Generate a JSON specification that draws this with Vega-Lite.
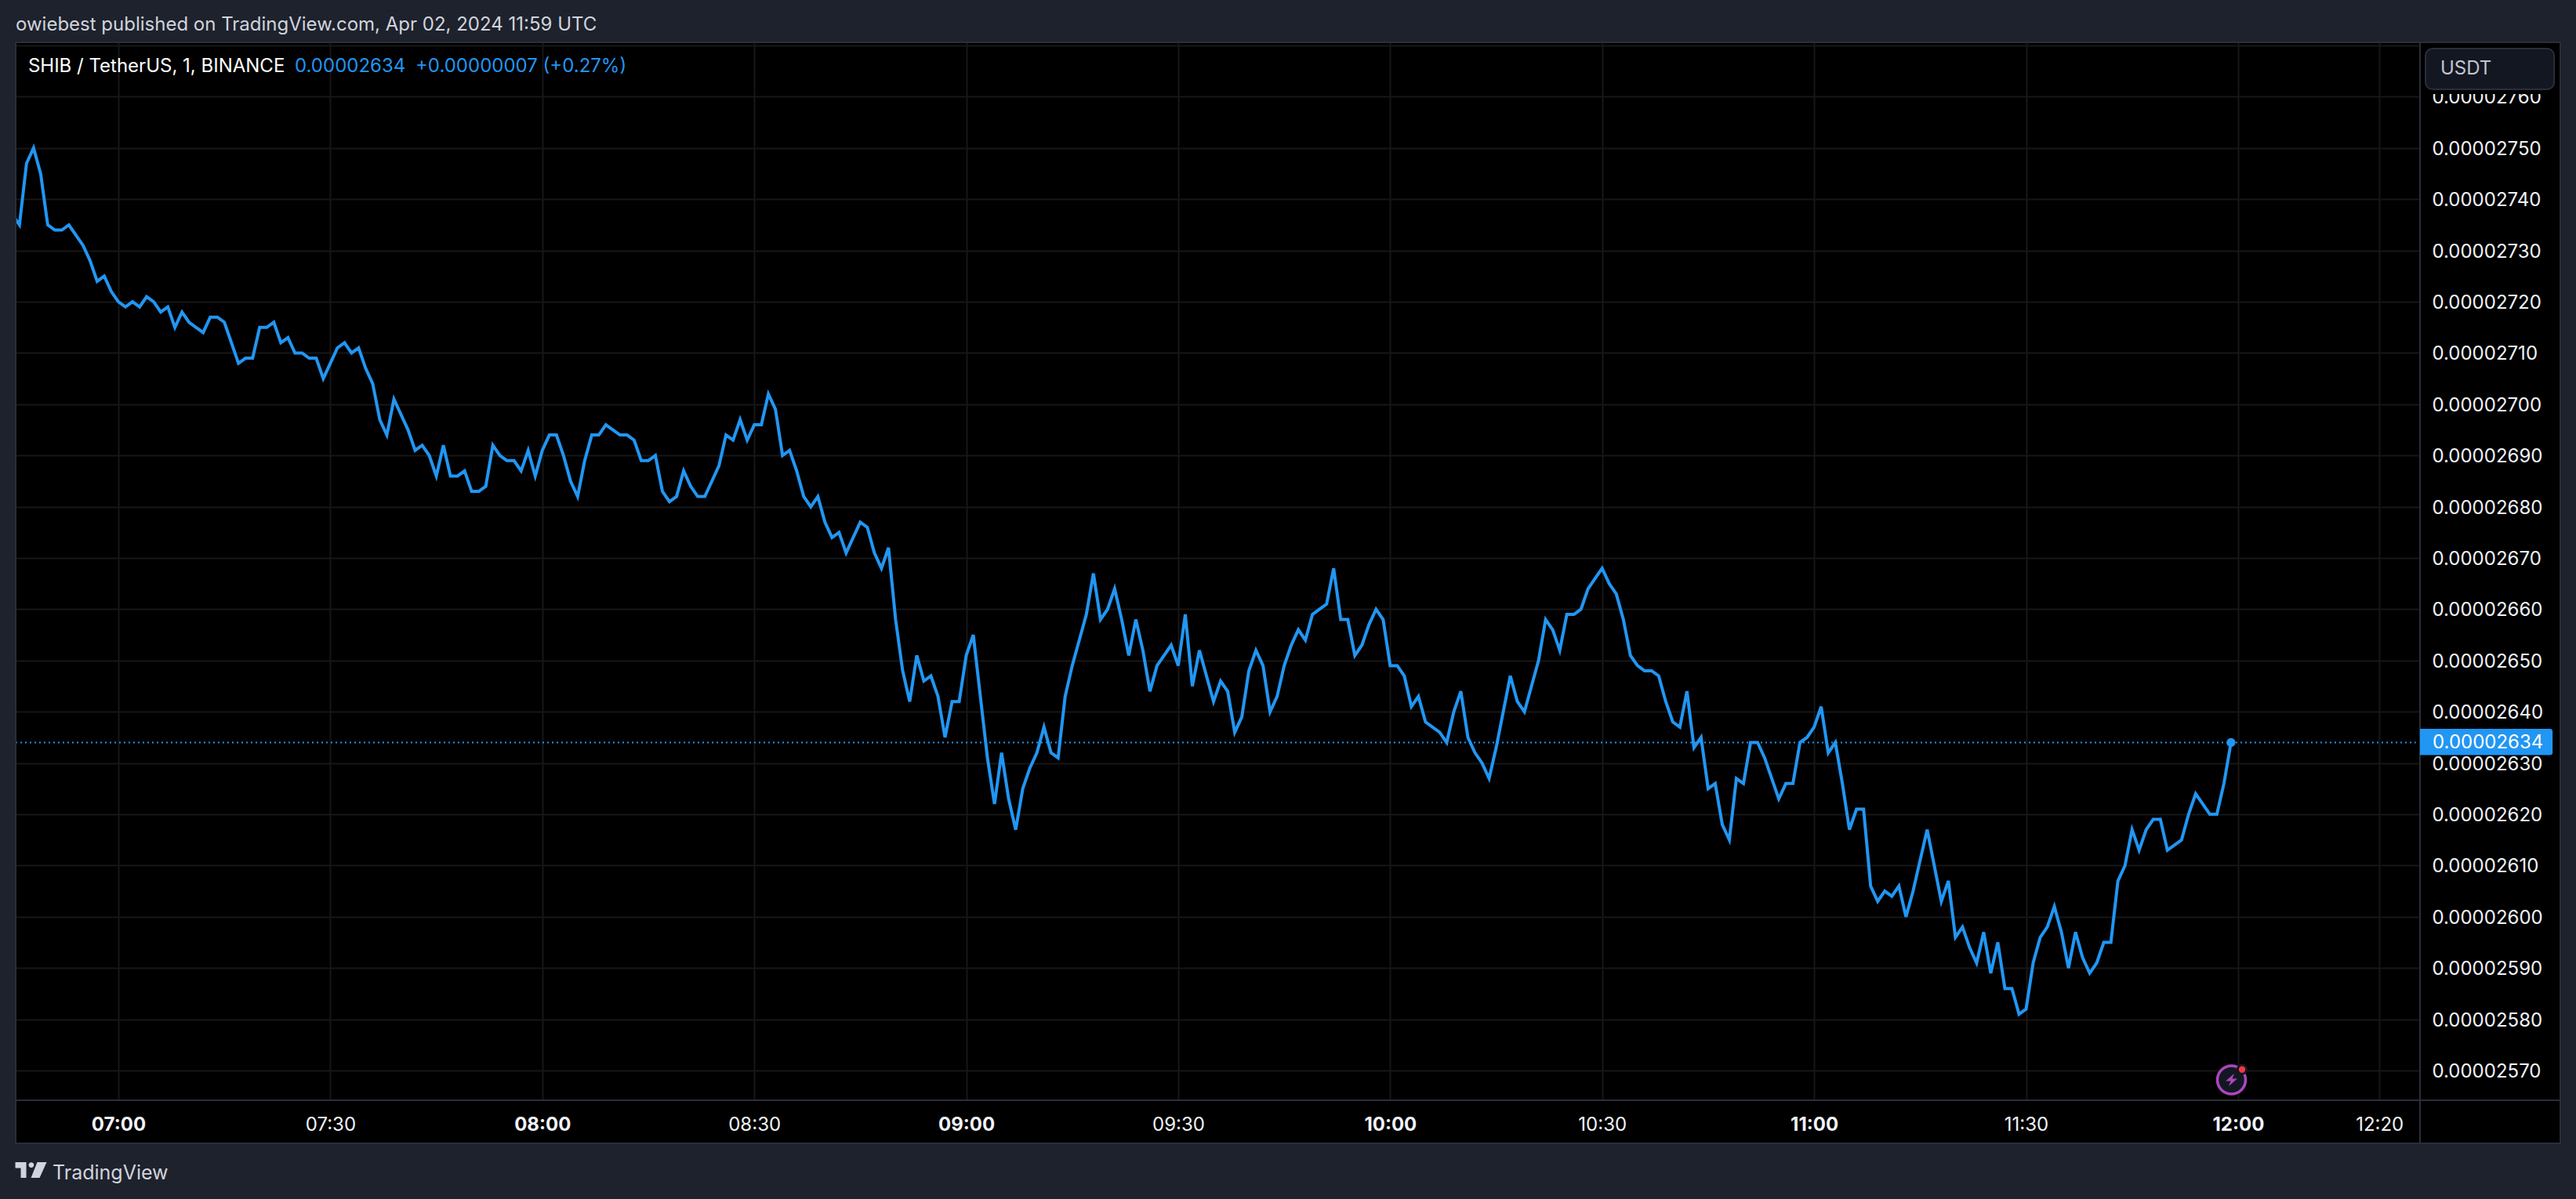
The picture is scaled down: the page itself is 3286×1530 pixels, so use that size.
{"$schema":"https://vega.github.io/schema/vega-lite/v6.json","width":3067,"height":1350,"padding":{"left":20,"top":54,"right":199,"bottom":126},"autosize":{"type":"none"},"background":"#000000","view":{"fill":"#000000","stroke":null},
"datasets":{"prices":[
{"time":"2024-04-02T06:45:00Z","close":0.00002737},{"time":"2024-04-02T06:46:00Z","close":0.00002735},{"time":"2024-04-02T06:47:00Z","close":0.00002747},{"time":"2024-04-02T06:48:00Z","close":0.0000275},{"time":"2024-04-02T06:49:00Z","close":0.00002745},{"time":"2024-04-02T06:50:00Z","close":0.00002735},{"time":"2024-04-02T06:51:00Z","close":0.00002734},{"time":"2024-04-02T06:52:00Z","close":0.00002734},{"time":"2024-04-02T06:53:00Z","close":0.00002735},{"time":"2024-04-02T06:54:00Z","close":0.00002733},{"time":"2024-04-02T06:55:00Z","close":0.00002731},{"time":"2024-04-02T06:56:00Z","close":0.00002728},{"time":"2024-04-02T06:57:00Z","close":0.00002724},{"time":"2024-04-02T06:58:00Z","close":0.00002725},{"time":"2024-04-02T06:59:00Z","close":0.00002722},
{"time":"2024-04-02T07:00:00Z","close":0.0000272},{"time":"2024-04-02T07:01:00Z","close":0.00002719},{"time":"2024-04-02T07:02:00Z","close":0.0000272},{"time":"2024-04-02T07:03:00Z","close":0.00002719},{"time":"2024-04-02T07:04:00Z","close":0.00002721},{"time":"2024-04-02T07:05:00Z","close":0.0000272},{"time":"2024-04-02T07:06:00Z","close":0.00002718},{"time":"2024-04-02T07:07:00Z","close":0.00002719},{"time":"2024-04-02T07:08:00Z","close":0.00002715},{"time":"2024-04-02T07:09:00Z","close":0.00002718},{"time":"2024-04-02T07:10:00Z","close":0.00002716},{"time":"2024-04-02T07:11:00Z","close":0.00002715},{"time":"2024-04-02T07:12:00Z","close":0.00002714},{"time":"2024-04-02T07:13:00Z","close":0.00002717},{"time":"2024-04-02T07:14:00Z","close":0.00002717},{"time":"2024-04-02T07:15:00Z","close":0.00002716},{"time":"2024-04-02T07:16:00Z","close":0.00002712},{"time":"2024-04-02T07:17:00Z","close":0.00002708},{"time":"2024-04-02T07:18:00Z","close":0.00002709},{"time":"2024-04-02T07:19:00Z","close":0.00002709},{"time":"2024-04-02T07:20:00Z","close":0.00002715},{"time":"2024-04-02T07:21:00Z","close":0.00002715},{"time":"2024-04-02T07:22:00Z","close":0.00002716},{"time":"2024-04-02T07:23:00Z","close":0.00002712},{"time":"2024-04-02T07:24:00Z","close":0.00002713},{"time":"2024-04-02T07:25:00Z","close":0.0000271},
{"time":"2024-04-02T07:26:00Z","close":0.0000271},{"time":"2024-04-02T07:27:00Z","close":0.00002709},{"time":"2024-04-02T07:28:00Z","close":0.00002709},{"time":"2024-04-02T07:29:00Z","close":0.00002705},{"time":"2024-04-02T07:30:00Z","close":0.00002708},{"time":"2024-04-02T07:31:00Z","close":0.00002711},{"time":"2024-04-02T07:32:00Z","close":0.00002712},{"time":"2024-04-02T07:33:00Z","close":0.0000271},{"time":"2024-04-02T07:34:00Z","close":0.00002711},{"time":"2024-04-02T07:35:00Z","close":0.00002707},{"time":"2024-04-02T07:36:00Z","close":0.00002704},{"time":"2024-04-02T07:37:00Z","close":0.00002697},{"time":"2024-04-02T07:38:00Z","close":0.00002694},{"time":"2024-04-02T07:39:00Z","close":0.00002701},{"time":"2024-04-02T07:40:00Z","close":0.00002698},{"time":"2024-04-02T07:41:00Z","close":0.00002695},{"time":"2024-04-02T07:42:00Z","close":0.00002691},{"time":"2024-04-02T07:43:00Z","close":0.00002692},{"time":"2024-04-02T07:44:00Z","close":0.0000269},{"time":"2024-04-02T07:45:00Z","close":0.00002686},{"time":"2024-04-02T07:46:00Z","close":0.00002692},{"time":"2024-04-02T07:47:00Z","close":0.00002686},{"time":"2024-04-02T07:48:00Z","close":0.00002686},{"time":"2024-04-02T07:49:00Z","close":0.00002687},{"time":"2024-04-02T07:50:00Z","close":0.00002683},{"time":"2024-04-02T07:51:00Z","close":0.00002683},{"time":"2024-04-02T07:52:00Z","close":0.00002684},{"time":"2024-04-02T07:53:00Z","close":0.00002692},{"time":"2024-04-02T07:54:00Z","close":0.0000269},{"time":"2024-04-02T07:55:00Z","close":0.00002689},{"time":"2024-04-02T07:56:00Z","close":0.00002689},{"time":"2024-04-02T07:57:00Z","close":0.00002687},{"time":"2024-04-02T07:58:00Z","close":0.00002691},{"time":"2024-04-02T07:59:00Z","close":0.00002686},
{"time":"2024-04-02T08:00:00Z","close":0.00002691},{"time":"2024-04-02T08:01:00Z","close":0.00002694},{"time":"2024-04-02T08:02:00Z","close":0.00002694},{"time":"2024-04-02T08:03:00Z","close":0.0000269},{"time":"2024-04-02T08:04:00Z","close":0.00002685},{"time":"2024-04-02T08:05:00Z","close":0.00002682},{"time":"2024-04-02T08:06:00Z","close":0.00002689},{"time":"2024-04-02T08:07:00Z","close":0.00002694},{"time":"2024-04-02T08:08:00Z","close":0.00002694},{"time":"2024-04-02T08:09:00Z","close":0.00002696},{"time":"2024-04-02T08:10:00Z","close":0.00002695},{"time":"2024-04-02T08:11:00Z","close":0.00002694},{"time":"2024-04-02T08:12:00Z","close":0.00002694},{"time":"2024-04-02T08:13:00Z","close":0.00002693},{"time":"2024-04-02T08:14:00Z","close":0.00002689},{"time":"2024-04-02T08:15:00Z","close":0.00002689},{"time":"2024-04-02T08:16:00Z","close":0.0000269},{"time":"2024-04-02T08:17:00Z","close":0.00002683},{"time":"2024-04-02T08:18:00Z","close":0.00002681},{"time":"2024-04-02T08:19:00Z","close":0.00002682},{"time":"2024-04-02T08:20:00Z","close":0.00002687},{"time":"2024-04-02T08:21:00Z","close":0.00002684},{"time":"2024-04-02T08:22:00Z","close":0.00002682},{"time":"2024-04-02T08:23:00Z","close":0.00002682},{"time":"2024-04-02T08:24:00Z","close":0.00002685},{"time":"2024-04-02T08:25:00Z","close":0.00002688},{"time":"2024-04-02T08:26:00Z","close":0.00002694},{"time":"2024-04-02T08:27:00Z","close":0.00002693},{"time":"2024-04-02T08:28:00Z","close":0.00002697},{"time":"2024-04-02T08:29:00Z","close":0.00002693},{"time":"2024-04-02T08:30:00Z","close":0.00002696},{"time":"2024-04-02T08:31:00Z","close":0.00002696},{"time":"2024-04-02T08:32:00Z","close":0.00002702},{"time":"2024-04-02T08:33:00Z","close":0.00002699},{"time":"2024-04-02T08:34:00Z","close":0.0000269},{"time":"2024-04-02T08:35:00Z","close":0.00002691},{"time":"2024-04-02T08:36:00Z","close":0.00002687},{"time":"2024-04-02T08:37:00Z","close":0.00002682},{"time":"2024-04-02T08:38:00Z","close":0.0000268},{"time":"2024-04-02T08:39:00Z","close":0.00002682},{"time":"2024-04-02T08:40:00Z","close":0.00002677},{"time":"2024-04-02T08:41:00Z","close":0.00002674},{"time":"2024-04-02T08:42:00Z","close":0.00002675},{"time":"2024-04-02T08:43:00Z","close":0.00002671},{"time":"2024-04-02T08:44:00Z","close":0.00002674},{"time":"2024-04-02T08:45:00Z","close":0.00002677},
{"time":"2024-04-02T08:46:00Z","close":0.00002676},{"time":"2024-04-02T08:47:00Z","close":0.00002671},{"time":"2024-04-02T08:48:00Z","close":0.00002668},{"time":"2024-04-02T08:49:00Z","close":0.00002672},{"time":"2024-04-02T08:50:00Z","close":0.00002658},{"time":"2024-04-02T08:51:00Z","close":0.00002648},{"time":"2024-04-02T08:52:00Z","close":0.00002642},{"time":"2024-04-02T08:53:00Z","close":0.00002651},{"time":"2024-04-02T08:54:00Z","close":0.00002646},{"time":"2024-04-02T08:55:00Z","close":0.00002647},{"time":"2024-04-02T08:56:00Z","close":0.00002643},{"time":"2024-04-02T08:57:00Z","close":0.00002635},{"time":"2024-04-02T08:58:00Z","close":0.00002642},{"time":"2024-04-02T08:59:00Z","close":0.00002642},{"time":"2024-04-02T09:00:00Z","close":0.00002651},{"time":"2024-04-02T09:01:00Z","close":0.00002655},{"time":"2024-04-02T09:02:00Z","close":0.00002643},{"time":"2024-04-02T09:03:00Z","close":0.00002631},{"time":"2024-04-02T09:04:00Z","close":0.00002622},{"time":"2024-04-02T09:05:00Z","close":0.00002632},{"time":"2024-04-02T09:06:00Z","close":0.00002623},{"time":"2024-04-02T09:07:00Z","close":0.00002617},{"time":"2024-04-02T09:08:00Z","close":0.00002625},{"time":"2024-04-02T09:09:00Z","close":0.00002629},{"time":"2024-04-02T09:10:00Z","close":0.00002632},{"time":"2024-04-02T09:11:00Z","close":0.00002637},{"time":"2024-04-02T09:12:00Z","close":0.00002632},{"time":"2024-04-02T09:13:00Z","close":0.00002631},{"time":"2024-04-02T09:14:00Z","close":0.00002643},{"time":"2024-04-02T09:15:00Z","close":0.00002649},{"time":"2024-04-02T09:16:00Z","close":0.00002654},{"time":"2024-04-02T09:17:00Z","close":0.00002659},{"time":"2024-04-02T09:18:00Z","close":0.00002667},{"time":"2024-04-02T09:19:00Z","close":0.00002658},{"time":"2024-04-02T09:20:00Z","close":0.0000266},{"time":"2024-04-02T09:21:00Z","close":0.00002664},{"time":"2024-04-02T09:22:00Z","close":0.00002658},{"time":"2024-04-02T09:23:00Z","close":0.00002651},{"time":"2024-04-02T09:24:00Z","close":0.00002658},{"time":"2024-04-02T09:25:00Z","close":0.00002652},
{"time":"2024-04-02T09:26:00Z","close":0.00002644},{"time":"2024-04-02T09:27:00Z","close":0.00002649},{"time":"2024-04-02T09:28:00Z","close":0.00002651},{"time":"2024-04-02T09:29:00Z","close":0.00002653},{"time":"2024-04-02T09:30:00Z","close":0.00002649},{"time":"2024-04-02T09:31:00Z","close":0.00002659},{"time":"2024-04-02T09:32:00Z","close":0.00002645},{"time":"2024-04-02T09:33:00Z","close":0.00002652},{"time":"2024-04-02T09:34:00Z","close":0.00002647},{"time":"2024-04-02T09:35:00Z","close":0.00002642},{"time":"2024-04-02T09:36:00Z","close":0.00002646},{"time":"2024-04-02T09:37:00Z","close":0.00002644},{"time":"2024-04-02T09:38:00Z","close":0.00002636},{"time":"2024-04-02T09:39:00Z","close":0.00002639},{"time":"2024-04-02T09:40:00Z","close":0.00002648},{"time":"2024-04-02T09:41:00Z","close":0.00002652},{"time":"2024-04-02T09:42:00Z","close":0.00002649},{"time":"2024-04-02T09:43:00Z","close":0.0000264},{"time":"2024-04-02T09:44:00Z","close":0.00002643},{"time":"2024-04-02T09:45:00Z","close":0.00002649},{"time":"2024-04-02T09:46:00Z","close":0.00002653},{"time":"2024-04-02T09:47:00Z","close":0.00002656},{"time":"2024-04-02T09:48:00Z","close":0.00002654},{"time":"2024-04-02T09:49:00Z","close":0.00002659},{"time":"2024-04-02T09:50:00Z","close":0.0000266},{"time":"2024-04-02T09:51:00Z","close":0.00002661},{"time":"2024-04-02T09:52:00Z","close":0.00002668},{"time":"2024-04-02T09:53:00Z","close":0.00002658},{"time":"2024-04-02T09:54:00Z","close":0.00002658},{"time":"2024-04-02T09:55:00Z","close":0.00002651},{"time":"2024-04-02T09:56:00Z","close":0.00002653},{"time":"2024-04-02T09:57:00Z","close":0.00002657},{"time":"2024-04-02T09:58:00Z","close":0.0000266},{"time":"2024-04-02T09:59:00Z","close":0.00002658},
{"time":"2024-04-02T10:00:00Z","close":0.00002649},{"time":"2024-04-02T10:01:00Z","close":0.00002649},{"time":"2024-04-02T10:02:00Z","close":0.00002647},{"time":"2024-04-02T10:03:00Z","close":0.00002641},{"time":"2024-04-02T10:04:00Z","close":0.00002643},{"time":"2024-04-02T10:05:00Z","close":0.00002638},{"time":"2024-04-02T10:06:00Z","close":0.00002637},{"time":"2024-04-02T10:07:00Z","close":0.00002636},{"time":"2024-04-02T10:08:00Z","close":0.00002634},{"time":"2024-04-02T10:09:00Z","close":0.0000264},{"time":"2024-04-02T10:10:00Z","close":0.00002644},{"time":"2024-04-02T10:11:00Z","close":0.00002635},{"time":"2024-04-02T10:12:00Z","close":0.00002632},{"time":"2024-04-02T10:13:00Z","close":0.0000263},{"time":"2024-04-02T10:14:00Z","close":0.00002627},{"time":"2024-04-02T10:15:00Z","close":0.00002633},{"time":"2024-04-02T10:16:00Z","close":0.0000264},{"time":"2024-04-02T10:17:00Z","close":0.00002647},{"time":"2024-04-02T10:18:00Z","close":0.00002642},{"time":"2024-04-02T10:19:00Z","close":0.0000264},{"time":"2024-04-02T10:20:00Z","close":0.00002645},{"time":"2024-04-02T10:21:00Z","close":0.0000265},{"time":"2024-04-02T10:22:00Z","close":0.00002658},{"time":"2024-04-02T10:23:00Z","close":0.00002656},{"time":"2024-04-02T10:24:00Z","close":0.00002652},{"time":"2024-04-02T10:25:00Z","close":0.00002659},{"time":"2024-04-02T10:26:00Z","close":0.00002659},{"time":"2024-04-02T10:27:00Z","close":0.0000266},{"time":"2024-04-02T10:28:00Z","close":0.00002664},{"time":"2024-04-02T10:29:00Z","close":0.00002666},{"time":"2024-04-02T10:30:00Z","close":0.00002668},{"time":"2024-04-02T10:31:00Z","close":0.00002665},{"time":"2024-04-02T10:32:00Z","close":0.00002663},{"time":"2024-04-02T10:33:00Z","close":0.00002658},{"time":"2024-04-02T10:34:00Z","close":0.00002651},{"time":"2024-04-02T10:35:00Z","close":0.00002649},{"time":"2024-04-02T10:36:00Z","close":0.00002648},{"time":"2024-04-02T10:37:00Z","close":0.00002648},{"time":"2024-04-02T10:38:00Z","close":0.00002647},{"time":"2024-04-02T10:39:00Z","close":0.00002642},{"time":"2024-04-02T10:40:00Z","close":0.00002638},{"time":"2024-04-02T10:41:00Z","close":0.00002637},{"time":"2024-04-02T10:42:00Z","close":0.00002644},{"time":"2024-04-02T10:43:00Z","close":0.00002633},{"time":"2024-04-02T10:44:00Z","close":0.00002635},{"time":"2024-04-02T10:45:00Z","close":0.00002625},
{"time":"2024-04-02T10:46:00Z","close":0.00002626},{"time":"2024-04-02T10:47:00Z","close":0.00002618},{"time":"2024-04-02T10:48:00Z","close":0.00002615},{"time":"2024-04-02T10:49:00Z","close":0.00002627},{"time":"2024-04-02T10:50:00Z","close":0.00002626},{"time":"2024-04-02T10:51:00Z","close":0.00002634},{"time":"2024-04-02T10:52:00Z","close":0.00002634},{"time":"2024-04-02T10:53:00Z","close":0.00002631},{"time":"2024-04-02T10:54:00Z","close":0.00002627},{"time":"2024-04-02T10:55:00Z","close":0.00002623},{"time":"2024-04-02T10:56:00Z","close":0.00002626},{"time":"2024-04-02T10:57:00Z","close":0.00002626},{"time":"2024-04-02T10:58:00Z","close":0.00002634},{"time":"2024-04-02T10:59:00Z","close":0.00002635},{"time":"2024-04-02T11:00:00Z","close":0.00002637},{"time":"2024-04-02T11:01:00Z","close":0.00002641},{"time":"2024-04-02T11:02:00Z","close":0.00002632},{"time":"2024-04-02T11:03:00Z","close":0.00002634},{"time":"2024-04-02T11:04:00Z","close":0.00002626},{"time":"2024-04-02T11:05:00Z","close":0.00002617},{"time":"2024-04-02T11:06:00Z","close":0.00002621},{"time":"2024-04-02T11:07:00Z","close":0.00002621},{"time":"2024-04-02T11:08:00Z","close":0.00002606},{"time":"2024-04-02T11:09:00Z","close":0.00002603},{"time":"2024-04-02T11:10:00Z","close":0.00002605},{"time":"2024-04-02T11:11:00Z","close":0.00002604},{"time":"2024-04-02T11:12:00Z","close":0.00002606},{"time":"2024-04-02T11:13:00Z","close":0.000026},{"time":"2024-04-02T11:14:00Z","close":0.00002605},{"time":"2024-04-02T11:15:00Z","close":0.00002611},{"time":"2024-04-02T11:16:00Z","close":0.00002617},{"time":"2024-04-02T11:17:00Z","close":0.0000261},{"time":"2024-04-02T11:18:00Z","close":0.00002603},{"time":"2024-04-02T11:19:00Z","close":0.00002607},{"time":"2024-04-02T11:20:00Z","close":0.00002596},{"time":"2024-04-02T11:21:00Z","close":0.00002598},{"time":"2024-04-02T11:22:00Z","close":0.00002594},{"time":"2024-04-02T11:23:00Z","close":0.00002591},{"time":"2024-04-02T11:24:00Z","close":0.00002597},{"time":"2024-04-02T11:25:00Z","close":0.00002589},{"time":"2024-04-02T11:26:00Z","close":0.00002595},{"time":"2024-04-02T11:27:00Z","close":0.00002586},{"time":"2024-04-02T11:28:00Z","close":0.00002586},{"time":"2024-04-02T11:29:00Z","close":0.00002581},{"time":"2024-04-02T11:30:00Z","close":0.00002582},{"time":"2024-04-02T11:31:00Z","close":0.00002591},{"time":"2024-04-02T11:32:00Z","close":0.00002596},{"time":"2024-04-02T11:33:00Z","close":0.00002598},{"time":"2024-04-02T11:34:00Z","close":0.00002602},{"time":"2024-04-02T11:35:00Z","close":0.00002597},{"time":"2024-04-02T11:36:00Z","close":0.0000259},{"time":"2024-04-02T11:37:00Z","close":0.00002597},{"time":"2024-04-02T11:38:00Z","close":0.00002592},{"time":"2024-04-02T11:39:00Z","close":0.00002589},{"time":"2024-04-02T11:40:00Z","close":0.00002591},{"time":"2024-04-02T11:41:00Z","close":0.00002595},{"time":"2024-04-02T11:42:00Z","close":0.00002595},{"time":"2024-04-02T11:43:00Z","close":0.00002607},{"time":"2024-04-02T11:44:00Z","close":0.0000261},{"time":"2024-04-02T11:45:00Z","close":0.00002617},{"time":"2024-04-02T11:46:00Z","close":0.00002613},{"time":"2024-04-02T11:47:00Z","close":0.00002617},{"time":"2024-04-02T11:48:00Z","close":0.00002619},{"time":"2024-04-02T11:49:00Z","close":0.00002619},{"time":"2024-04-02T11:50:00Z","close":0.00002613},{"time":"2024-04-02T11:51:00Z","close":0.00002614},{"time":"2024-04-02T11:52:00Z","close":0.00002615},{"time":"2024-04-02T11:53:00Z","close":0.0000262},{"time":"2024-04-02T11:54:00Z","close":0.00002624},{"time":"2024-04-02T11:55:00Z","close":0.00002622},{"time":"2024-04-02T11:56:00Z","close":0.0000262},{"time":"2024-04-02T11:57:00Z","close":0.0000262},{"time":"2024-04-02T11:58:00Z","close":0.00002626},{"time":"2024-04-02T11:59:00Z","close":0.00002634}]},
"encoding":{
"x":{"field":"time","type":"temporal","title":null,"scale":{"type":"utc","domain":[{"year":2024,"month":4,"date":2,"hours":6,"minutes":45,"seconds":28,"utc":true},{"year":2024,"month":4,"date":2,"hours":12,"minutes":25,"seconds":45,"utc":true}]},
"axis":{"orient":"bottom","values":[{"year":2024,"month":4,"date":2,"hours":7,"minutes":0,"utc":true},{"year":2024,"month":4,"date":2,"hours":7,"minutes":30,"utc":true},{"year":2024,"month":4,"date":2,"hours":8,"minutes":0,"utc":true},{"year":2024,"month":4,"date":2,"hours":8,"minutes":30,"utc":true},{"year":2024,"month":4,"date":2,"hours":9,"minutes":0,"utc":true},{"year":2024,"month":4,"date":2,"hours":9,"minutes":30,"utc":true},{"year":2024,"month":4,"date":2,"hours":10,"minutes":0,"utc":true},{"year":2024,"month":4,"date":2,"hours":10,"minutes":30,"utc":true},{"year":2024,"month":4,"date":2,"hours":11,"minutes":0,"utc":true},{"year":2024,"month":4,"date":2,"hours":11,"minutes":30,"utc":true},{"year":2024,"month":4,"date":2,"hours":12,"minutes":0,"utc":true},{"year":2024,"month":4,"date":2,"hours":12,"minutes":20,"utc":true}],"format":"%H:%M","domain":false,"ticks":false,"grid":true,"gridColor":"#171717","gridWidth":2,"labelFont":"Inter","labelFontSize":24,"labelColor":"#f0f3fa","labelPadding":19,"labelOverlap":false,"labelBound":false,"labelFlush":false,"labelFontWeight":{"condition":{"test":"utcminutes(datum.value)==0","value":"bold"},"value":"normal"}}},
"y":{"field":"close","type":"quantitative","title":null,"scale":{"zero":false,"nice":false,"domain":[0.00002564198,0.00002770627]},
"axis":{"orient":"right","values":[0.0000257,0.0000258,0.0000259,0.000026,0.0000261,0.0000262,0.0000263,0.0000264,0.0000265,0.0000266,0.0000267,0.0000268,0.0000269,0.000027,0.0000271,0.0000272,0.0000273,0.0000274,0.0000275,0.0000276,0.0000277],"format":".8f","labelExpr":"datum.value>0.00002765?'':datum.label","domain":false,"ticks":false,"grid":true,"gridColor":"#171717","gridWidth":2,"labelFont":"Inter","labelFontSize":24,"labelColor":"#f0f3fa","labelPadding":15,"labelOffset":1.5,"labelOverlap":false,"labelBound":false,"labelFlush":false,"labelAlign":"left"}}
},
"layer":[
{"data":{"values":[{"time":"2024-04-02T06:45:28Z","close":0.00002634,"time2":"2024-04-02T12:25:10Z"}],"format":{"parse":{"time":"date","time2":"date"}}},"mark":{"type":"rule","color":"#2196f3","strokeWidth":2,"strokeDash":[2,4]},"encoding":{"x2":{"field":"time2"}}},
{"data":{"name":"prices"},"mark":{"type":"line","color":"#2196f3","strokeWidth":4,"clip":true,"interpolate":"linear"}},
{"data":{"values":[{"time":"2024-04-02T11:59:00Z","close":0.00002634}]},"mark":{"type":"point","shape":"circle","filled":true,"color":"#2196f3","size":130,"opacity":1}},
{"data":{"values":[
{"time":"2024-04-02T06:43:15Z","time2":"2024-04-02T12:47:50Z","close":0.00002770773,"close2":0.00002778880},
{"time":"2024-04-02T06:43:15Z","time2":"2024-04-02T06:45:21Z","close":0.00002544940,"close2":0.00002778880},
{"time":"2024-04-02T12:45:44Z","time2":"2024-04-02T12:47:50Z","close":0.00002544940,"close2":0.00002778880},
{"time":"2024-04-02T06:43:15Z","time2":"2024-04-02T12:47:50Z","close":0.00002544940,"close2":0.00002555640}],"format":{"parse":{"time":"date","time2":"date"}}},"mark":{"type":"rect","fill":"#1e222d"},"encoding":{"x2":{"field":"time2"},"y2":{"field":"close2"}}},
{"data":{"values":[
{"time":"2024-04-02T06:45:28Z","time2":"2024-04-02T12:25:45Z","close":0.00002564198,"close2":0.00002770627},
{"time":"2024-04-02T06:45:28Z","time2":"2024-04-02T12:25:45Z","close":0.00002555790,"close2":0.00002564198},
{"time":"2024-04-02T12:25:45Z","time2":"2024-04-02T12:45:37Z","close":0.00002555790,"close2":0.00002564198},
{"time":"2024-04-02T12:25:45Z","time2":"2024-04-02T12:45:37Z","close":0.00002564198,"close2":0.00002770627}],"format":{"parse":{"time":"date","time2":"date"}}},"mark":{"type":"rect","fill":null,"stroke":"#2a2e39","strokeWidth":2},"encoding":{"x2":{"field":"time2"},"y2":{"field":"close2"}}},
{"data":{"values":[{"time":"2024-04-02T12:25:52Z","time2":"2024-04-02T12:45:24Z","close":0.00002760540,"close2":0.00002770480}],"format":{"parse":{"time":"date","time2":"date"}}},"mark":{"type":"rect","fill":"#000000"},"encoding":{"x2":{"field":"time2"},"y2":{"field":"close2"}}},
{"data":{"values":[{"time":"2024-04-02T12:26:32Z","time2":"2024-04-02T12:44:44Z","close":0.00002761450,"close2":0.00002769400}],"format":{"parse":{"time":"date","time2":"date"}}},"mark":{"type":"rect","fill":"#131722","stroke":"#2a2e39","strokeWidth":2,"cornerRadius":9},"encoding":{"x2":{"field":"time2"},"y2":{"field":"close2"}}},
{"data":{"values":[{"time":"2024-04-02T12:25:45Z","time2":"2024-04-02T12:44:31Z","close":0.00002631550,"close2":0.00002636690}],"format":{"parse":{"time":"date","time2":"date"}}},"mark":{"type":"rect","fill":"#2196f3","cornerRadiusTopRight":3,"cornerRadiusBottomRight":3},"encoding":{"x2":{"field":"time2"},"y2":{"field":"close2"}}},
{"data":{"values":[{"time":"2024-04-02T12:27:32Z","close":0.00002634,"label":"0.00002634"}]},"mark":{"type":"text","font":"Inter","fontSize":24,"color":"#ffffff","align":"left","baseline":"middle"},"encoding":{"text":{"field":"label"}}},
{"data":{"values":[{"time":"2024-04-02T12:28:38Z","close":0.00002765430,"label":"USDT"}]},"mark":{"type":"text","font":"Inter","fontSize":24,"color":"#c3c5d0","align":"left","baseline":"middle"},"encoding":{"text":{"field":"label"}}},
{"data":{"values":[{"time":"2024-04-02T06:45:28Z","close":0.00002773990,"label":"owiebest published on TradingView.com, Apr 02, 2024 11:59 UTC"}]},"mark":{"type":"text","font":"Inter","fontSize":24,"color":"#d1d4dc","align":"left","baseline":"middle"},"encoding":{"text":{"field":"label"}}},
{"data":{"values":[{"time":"2024-04-02T06:47:14Z","close":0.00002765890,"label":"SHIB / TetherUS, 1, BINANCE"}]},"mark":{"type":"text","font":"Inter","fontSize":24,"color":"#ffffff","align":"left","baseline":"middle"},"encoding":{"text":{"field":"label"}}},
{"data":{"values":[{"time":"2024-04-02T07:24:58Z","close":0.00002765890,"label":"0.00002634"},{"time":"2024-04-02T07:42:03Z","close":0.00002765890,"label":"+0.00000007 (+0.27%)"}]},"mark":{"type":"text","font":"Inter","fontSize":24,"color":"#2196f3","align":"left","baseline":"middle"},"encoding":{"text":{"field":"label"}}},
{"data":{"values":[{"time":"2024-04-02T06:50:41Z","close":0.00002549980,"label":"TradingView"}]},"mark":{"type":"text","font":"Inter","fontSize":25,"color":"#d1d4dc","align":"left","baseline":"middle"},"encoding":{"text":{"field":"label"}}},
{"data":{"values":[{"time":"2024-04-02T06:47:38Z","close":0.00002550600}]},"mark":{"type":"point","filled":true,"color":"#d1d4dc","opacity":1,"size":1600,"shape":"M-1 -0.5H-0.3V0.5H-0.65V-0.12H-1ZM-0.15 -0.32A0.17 0.17 0 1 0 0.19 -0.32A0.17 0.17 0 1 0 -0.15 -0.32ZM0.4 -0.5H1L0.55 0.5H0Z"}},
{"data":{"values":[{"time":"2024-04-02T11:59:04Z","close":0.00002568180}]},"mark":{"type":"point","shape":"circle","filled":true,"fill":"#131722","stroke":"#ab47bc","strokeWidth":3.5,"opacity":1,"size":1296}},
{"data":{"values":[{"time":"2024-04-02T11:59:04Z","close":0.00002568180}]},"mark":{"type":"point","filled":true,"color":"#ab47bc","opacity":1,"size":400,"shape":"M0.35 -0.8L-0.75 0.15H-0.1L-0.35 0.8L0.75 -0.15H0.1Z"}},
{"data":{"values":[{"time":"2024-04-02T12:00:34Z","close":0.00002570200}]},"mark":{"type":"point","shape":"circle","filled":true,"color":"#f23645","stroke":"#131722","strokeWidth":3,"opacity":1,"size":130}}
]}
